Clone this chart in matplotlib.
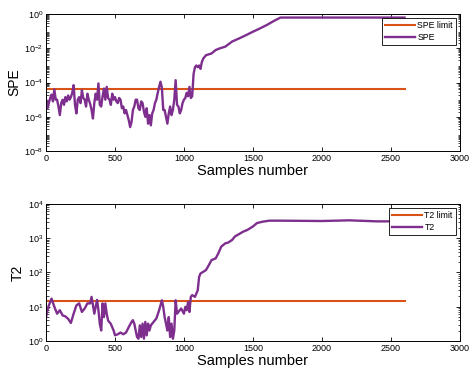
"""
SPE and T2 monitoring statistics against their control limits.
"""
import matplotlib
matplotlib.use("Agg")
import matplotlib.pyplot as plt
import numpy as np
from matplotlib.ticker import LogLocator, FixedLocator, NullFormatter

plt.rcParams['font.family'] = ['Liberation Sans', 'DejaVu Sans']

# Sample positions and log10 of SPE
spe_x = [0, 10, 20, 30, 40, 50, 60, 70, 80, 90, 100, 110, 120, 130, 140,
         150, 160, 170, 180, 190, 200, 210, 220, 230, 240, 250, 260, 270,
         280, 290, 300, 310, 320, 330, 340, 350, 360, 370, 380, 390, 400,
         410, 420, 430, 440, 450, 460, 470, 480, 490, 500, 510, 520, 530,
         540, 550, 560, 570, 580, 590, 600, 610, 620, 630, 640, 650, 660,
         670, 680, 690, 700, 710, 720, 730, 740, 750, 760, 770, 780, 790,
         800, 810, 820, 830, 840, 850, 860, 870, 880, 890, 900, 910, 920,
         930, 940, 950, 960, 970, 980, 990, 1000, 1010, 1020, 1030, 1040,
         1050, 1060, 1070, 1080, 1090, 1100, 1110, 1120, 1130, 1140, 1160,
         1200, 1230, 1260, 1300, 1350, 1400, 1450, 1500, 1550, 1600, 1650,
         1700, 2600]
spe_log = [-5.0, -5.5, -5.2, -4.9, -4.7, -5.1, -4.4, -5.0, -5.0, -5.4, -5.9,
           -5.2, -5.0, -5.3, -4.85, -5.1, -4.75, -5.0, -4.85, -4.6, -4.15,
           -5.3, -5.8, -5.0, -4.85, -5.2, -4.45, -4.9, -5.0, -5.4, -4.65,
           -5.0, -5.25, -5.6, -6.1, -5.2, -4.65, -5.0, -4.05, -5.3, -5.4,
           -4.8, -4.35, -5.0, -4.25, -4.9, -5.0, -5.3, -4.65, -5.0, -4.85,
           -5.1, -5.2, -4.9, -5.0, -5.5, -5.4, -5.8, -5.6, -5.9, -6.2, -6.6,
           -6.3, -5.6, -5.4, -5.0, -5.0, -5.5, -5.6, -5.1, -5.2, -5.7, -6.0,
           -5.5, -6.4, -5.9, -6.5, -5.8, -5.6, -5.2, -5.0, -4.6, -4.25,
           -3.95, -4.3, -5.6, -5.6, -6.0, -6.4, -5.8, -5.4, -5.9, -5.6,
           -5.0, -3.86, -5.3, -5.4, -5.8, -5.6, -5.2, -5.0, -4.9, -4.6,
           -4.8, -4.25, -4.9, -4.8, -3.5, -3.1, -3.0, -3.1, -3.0, -3.2,
           -2.8, -2.6, -2.4, -2.3, -2.1, -2.0, -1.9, -1.6, -1.42, -1.23,
           -1.03, -0.84, -0.64, -0.41, -0.2, -0.2]

# Sample positions and log10 of T2
t2_x = [0, 10, 20, 40, 60, 80, 100, 120, 140, 160, 180, 200, 220, 240, 260,
        280, 300, 320, 330, 340, 350, 360, 370, 380, 390, 400, 410, 420,
        430, 440, 450, 470, 490, 500, 520, 540, 560, 580, 600, 620, 630,
        640, 650, 660, 670, 680, 690, 700, 710, 720, 730, 740, 750, 760,
        780, 800, 820, 830, 840, 850, 860, 870, 880, 890, 900, 910, 920,
        930, 940, 950, 960, 980, 1000, 1010, 1020, 1030, 1040, 1050, 1060,
        1080, 1100, 1110, 1120, 1140, 1160, 1180, 1200, 1230, 1250, 1270,
        1300, 1320, 1350, 1370, 1400, 1430, 1460, 1500, 1530, 1570, 1620,
        1700, 2000, 2200, 2400, 2500, 2600]
t2_log = [0.70, 0.90, 1.04, 1.24, 1.00, 0.80, 0.90, 0.75, 0.72, 0.65, 0.53,
          0.80, 1.04, 1.10, 0.85, 0.95, 1.10, 1.10, 1.29, 1.05, 0.80, 1.00,
          1.20, 0.90, 0.50, 0.31, 1.10, 0.70, 1.10, 0.80, 0.60, 0.50, 0.31,
          0.17, 0.20, 0.25, 0.20, 0.25, 0.41, 0.56, 0.61, 0.51, 0.31, 0.12,
          0.07, 0.46, 0.12, 0.51, 0.07, 0.56, 0.17, 0.51, 0.31, 0.46, 0.56,
          0.66, 0.90, 1.04, 1.19, 1.00, 0.70, 0.51, 0.31, 0.70, 0.12, 0.51,
          0.07, 0.31, 1.19, 0.80, 0.85, 0.95, 0.80, 1.00, 0.90, 1.14, 0.85,
          1.29, 1.34, 1.29, 1.48, 1.87, 1.97, 2.02, 2.07, 2.21, 2.36, 2.41,
          2.56, 2.75, 2.85, 2.87, 2.95, 3.05, 3.12, 3.19, 3.24, 3.34, 3.44,
          3.48, 3.51, 3.51, 3.50, 3.52, 3.49, 3.49, 3.51]

spe_limit = 4.5e-5
t2_limit = 14.5
limit_x = [0, 2600]

orange = '#D95319'
purple = '#7E2F8E'


def style_axis(axis, ymin, ymax, ylabel):
    """MATLAB-like box axes with inward ticks on all sides."""
    axis.set_yscale('log')
    axis.set_xlim(0, 3000)
    axis.set_ylim(10.0**ymin, 10.0**ymax)
    axis.set_xticks(np.arange(0, 3001, 500))
    step = 2 if ymax - ymin > 4 else 1
    major = [10.0**k for k in range(ymin, ymax + 1, step)]
    axis.yaxis.set_major_locator(FixedLocator(major))
    axis.yaxis.set_minor_locator(LogLocator(base=10, subs=np.arange(2, 10),
                                            numticks=20))
    axis.yaxis.set_minor_formatter(NullFormatter())
    axis.tick_params(which='both', direction='in', top=True, right=True,
                     labelsize=6.5, pad=2)
    axis.tick_params(which='major', length=3, width=0.6)
    axis.tick_params(which='minor', length=1.8, width=0.5)
    axis.set_xlabel('Samples number', fontsize=10.5, labelpad=1)
    axis.set_ylabel(ylabel, fontsize=10, labelpad=2)
    for spine in axis.spines.values():
        spine.set_linewidth(0.7)


fig = plt.figure(figsize=(4.7, 3.72), dpi=100)
ax1 = fig.add_axes([0.098, 0.594, 0.880, 0.368])
ax2 = fig.add_axes([0.098, 0.083, 0.880, 0.369])

ax1.plot(limit_x, [spe_limit, spe_limit], color=orange, lw=1.5,
         label='SPE limit')
ax1.plot(spe_x, 10.0**np.array(spe_log), color=purple, lw=1.7, label='SPE')
style_axis(ax1, -8, 0, 'SPE')

ax2.plot(limit_x, [t2_limit, t2_limit], color=orange, lw=1.5,
         label='T2 limit')
ax2.plot(t2_x, 10.0**np.array(t2_log), color=purple, lw=1.7, label='T2')
style_axis(ax2, 0, 4, 'T2')

for axis in (ax1, ax2):
    leg = axis.legend(loc='upper right', fontsize=6.3, fancybox=False,
                      framealpha=1, edgecolor='black', borderpad=0.35,
                      handlelength=3.4, handletextpad=0.3, labelspacing=0.35,
                      borderaxespad=0.45)
    leg.get_frame().set_linewidth(0.6)

fig.savefig('out.png', dpi=100)
